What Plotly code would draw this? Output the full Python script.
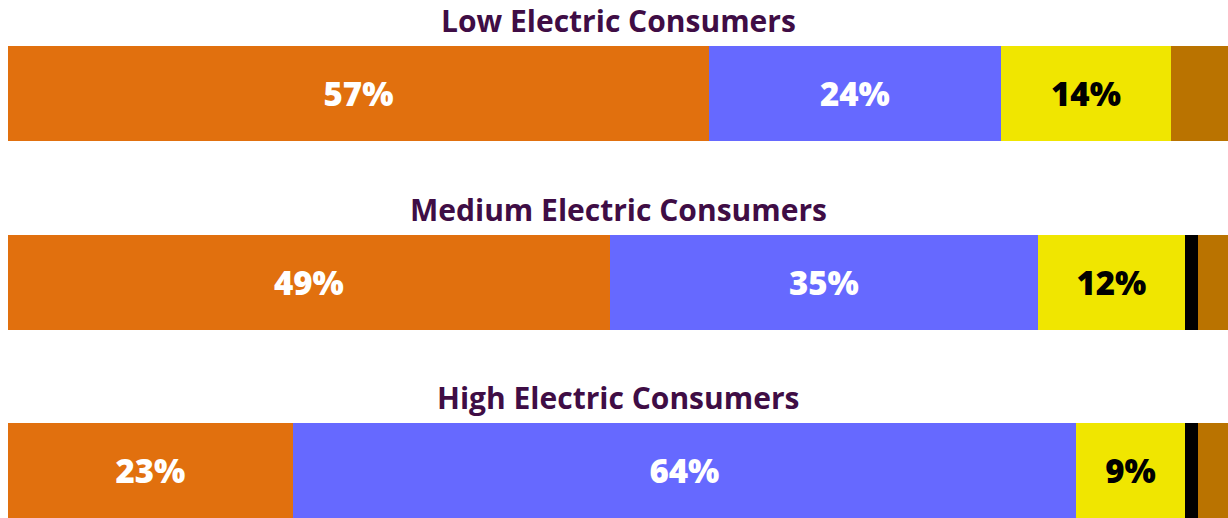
import plotly.graph_objects as go

groups = ["Low Electric Consumers", "Medium Electric Consumers", "High Electric Consumers"]
series_names = ["Segment 1", "Segment 2", "Segment 3", "Segment 4", "Segment 5"]
seg1 = [57.45, 49.33, 23.34]
seg2 = [23.94, 35.09, 64.20]
seg3 = [13.94, 12.05, 8.94]
seg4 = [0.0, 1.07, 1.07]
seg5 = [4.67, 2.46, 2.46]

colors = ["#E1700E", "#6669FF", "#F0E600", "#000000", "#BA7300"]
text_colors = ["white", "white", "black", "white", "white"]

ypos = [2, 1, 0]  # top to bottom

FONT = "Open Sans"

fig = go.Figure()
for name, vals, col, tcol in zip(series_names, [seg1, seg2, seg3, seg4, seg5], colors, text_colors):
    texts = [f"{round(v)}%" if v >= 5 else "" for v in vals]
    fig.add_trace(go.Bar(
        x=vals, y=ypos, orientation="h", name=name,
        marker=dict(color=col, line=dict(width=0)),
        width=0.504,
        text=texts, textposition="inside", insidetextanchor="middle",
        textfont=dict(family=FONT, size=33, color=tcol, weight=800),
        constraintext="none",
        hovertemplate="%{x:.0f}%<extra>" + name + "</extra>",
    ))

for g, yp in zip(groups, ypos):
    fig.add_annotation(
        x=0.5, xref="paper", y=yp + 0.252, yref="y", yanchor="bottom", yshift=4,
        borderpad=0,
        text=f"<b>{g}</b>", showarrow=False,
        font=dict(family=FONT, size=30, color="#3F0D45", weight=800),
    )

fig.update_layout(
    barmode="stack", width=1228, height=518,
    margin=dict(l=8, r=0, t=0, b=0),
    paper_bgcolor="white", plot_bgcolor="white",
    showlegend=False,
    xaxis=dict(range=[0, 100], visible=False, fixedrange=True),
    yaxis=dict(range=[-0.252, 2.4987], visible=False, fixedrange=True),
    uniformtext=dict(mode=False),
)

fig.write_html(
    "out.html",
    config={"displayModeBar": False},
    post_script="document.body.style.margin='0';document.body.style.overflow='hidden';",
)
